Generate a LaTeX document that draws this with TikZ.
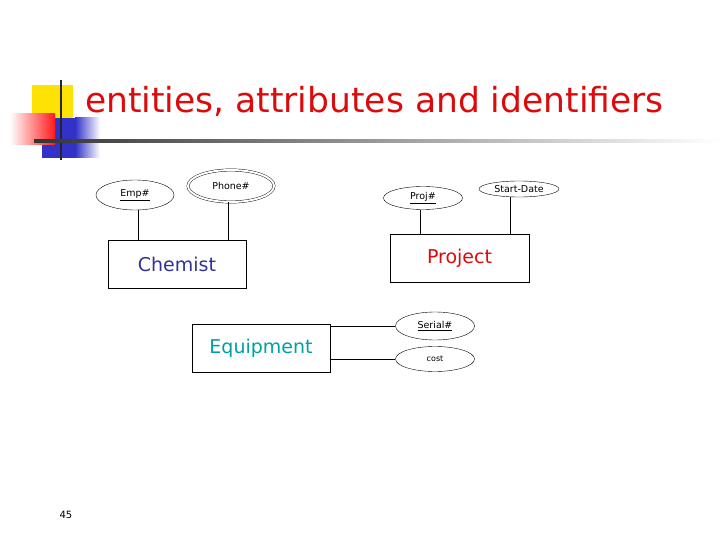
\documentclass[tikz,border=0pt]{standalone}
\usepackage{fontspec}
\setmainfont{DejaVu Sans}
\usetikzlibrary{shapes.geometric}
\definecolor{titlered}{RGB}{220,10,10}
\definecolor{chem}{RGB}{50,50,150}
\definecolor{equip}{RGB}{0,160,160}
\definecolor{logoblue}{RGB}{50,50,200}
\tikzset{
 attr/.style={draw,ellipse,inner sep=0pt,font=\fontsize{9.5}{10}\selectfont},
 ent/.style={draw,rectangle,inner sep=0pt,font=\fontsize{19}{21}\selectfont},
 conn/.style={draw,line width=0.6pt}
}
\begin{document}
\begin{tikzpicture}[x=1pt,y=-1pt]
\useasboundingbox (0,0) rectangle (720,540);
% logo
\fill[yellow!85!orange] (32,85) rectangle (73,118);
\shade[left color=logoblue,right color=white] (75,118) rectangle (100,158);
\fill[logoblue] (42,118) rectangle (75,158);
\shade[left color=white,right color=red!90] (10,114) rectangle (55,145);
\draw[line width=2pt,black!85] (61,80) -- (61,160);
\shade[left color=black!80,right color=white] (34,140) rectangle (720,142.5);
\node[anchor=base west,text=titlered,font=\fontsize{34.5}{38}\selectfont,inner sep=0pt] (title) at (85,113) {entities, attributes and identifiers};
% entities
\node[ent,minimum width=138,minimum height=48,text=chem] (chem) at (177,264) {Chemist};
\node[ent,minimum width=139,minimum height=48,text=titlered] (proj) at (459.5,258) {Project};
\node[ent,minimum width=138,minimum height=48,text=equip] (equip) at (261,348) {Equipment};
% attributes
\node[attr,minimum width=78,minimum height=30] (emp) at (135,195) {\underline{Emp\#}};
\node[attr,double,double distance=2pt,minimum width=86,minimum height=32] (phone) at (231,186) {Phone\#};
\node[attr,minimum width=79,minimum height=23] (pnum) at (423,198) {\underline{Proj\#}};
\node[attr,minimum width=80,minimum height=16] (sd) at (519,189) {Start-Date};
\node[attr,minimum width=79,minimum height=28] (ser) at (435,326) {\underline{Serial\#}};
\node[attr,minimum width=79,minimum height=25,font=\fontsize{8}{9}\selectfont] (cost) at (435,359) {cost};
% connectors
\draw[conn] (emp.south -| 138,0) -- (chem.north -| 138,0);
\draw[conn] (phone.south -| 228,0) -- (chem.north -| 228,0);
\draw[conn] (pnum.south -| 420,0) -- (proj.north -| 420,0);
\draw[conn] (sd.south -| 510,0) -- (proj.north -| 510,0);
\draw[conn] (equip.east |- ser) -- (ser.west);
\draw[conn] (equip.east |- cost) -- (cost.west);
\node[font=\fontsize{10}{11}\selectfont] (pg) at (66,515) {45};
\end{tikzpicture}
\end{document}
